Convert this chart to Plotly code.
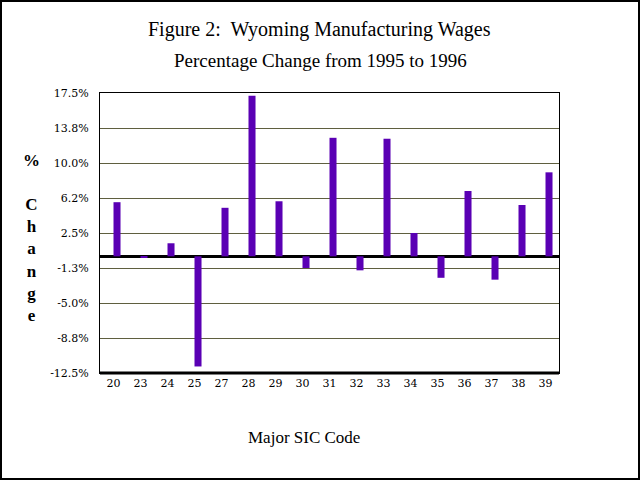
import plotly.graph_objects as go

sic_codes = ["20", "23", "24", "25", "27", "28", "29", "30", "31", "32", "33", "34", "35", "36", "37", "38", "39"]
pct_change = [5.8, -0.1, 1.4, -11.8, 5.2, 17.2, 5.9, -1.25, 12.7, -1.5, 12.6, 2.5, -2.3, 7.0, -2.5, 5.5, 9.0]
tick_vals = [17.5, 13.75, 10.0, 6.25, 2.5, -1.25, -5.0, -8.75, -12.5]
tick_text = ["17.5%", "13.8%", "10.0%", "6.2%", "2.5%", "-1.3%", "-5.0%", "-8.8%", "-12.5%"]

L, R, T, B = 100, 81, 93, 107
W, H = 640, 480
pw, ph = W - L - R, H - T - B

fig = go.Figure()
fig.add_trace(go.Bar(
    x=sic_codes, y=pct_change,
    marker=dict(color="#5a00b4", line=dict(width=0)),
    width=0.26, offset=0.0,
))

serif = "Liberation Serif"
fig.update_layout(
    width=W, height=H,
    margin=dict(l=L, r=R, t=T, b=B, autoexpand=False),
    paper_bgcolor="white", plot_bgcolor="white",
    showlegend=False,
    font=dict(family=serif, color="black"),
    xaxis=dict(type="category", showgrid=False, showline=True, mirror=True,
               linecolor="black", linewidth=1, ticks="",
               tickfont=dict(family="DejaVu Serif", size=11, color="black")),
    yaxis=dict(range=[-12.5, 17.5], tickvals=tick_vals, ticktext=tick_text,
               showgrid=True, gridcolor="#5f5f3f", gridwidth=1,
               zeroline=True, zerolinecolor="black", zerolinewidth=3,
               showline=True, mirror=True, linecolor="black", linewidth=1,
               ticks="", ticklabelstandoff=8,
               tickfont=dict(family="DejaVu Serif", size=11, color="black")),
    annotations=[
        dict(text="Figure 2:  Wyoming Manufacturing Wages", xref="paper", yref="paper",
             x=(319 - L) / pw, y=1 + (T - 30) / ph, showarrow=False,
             font=dict(family=serif, size=20), xanchor="center", yanchor="middle"),
        dict(text="Percentage Change from 1995 to 1996", xref="paper", yref="paper",
             x=(320 - L) / pw, y=1 + (T - 61) / ph, showarrow=False,
             font=dict(family=serif, size=19), xanchor="center", yanchor="middle"),
        dict(text="Major SIC Code", xref="paper", yref="paper",
             x=(304 - L) / pw, y=-(437 - T - ph) / ph, showarrow=False,
             font=dict(family=serif, size=17), xanchor="center", yanchor="middle"),
        dict(text="<b>%</b><br> <br><b>C</b><br><b>h</b><br><b>a</b><br><b>n</b><br><b>g</b><br><b>e</b>",
             xref="paper", yref="paper",
             x=(31 - L) / pw, y=1 - (238 - T) / ph, showarrow=False,
             font=dict(family=serif, size=17), xanchor="center", yanchor="middle",
             align="center"),
    ],
    shapes=[
        dict(type="line", xref="paper", yref="paper", x0=0, x1=1, y0=0, y1=0,
             line=dict(color="black", width=3)),
        dict(type="rect", xref="paper", yref="paper",
             x0=-(L - 1) / pw, x1=1 + (R - 1) / pw, y0=-(B - 1) / ph, y1=1 + (T - 1) / ph,
             line=dict(color="black", width=2)),
    ],
)

fig.write_html("out.html", config={"displayModeBar": False},
               post_script="document.body.style.margin='0';")
